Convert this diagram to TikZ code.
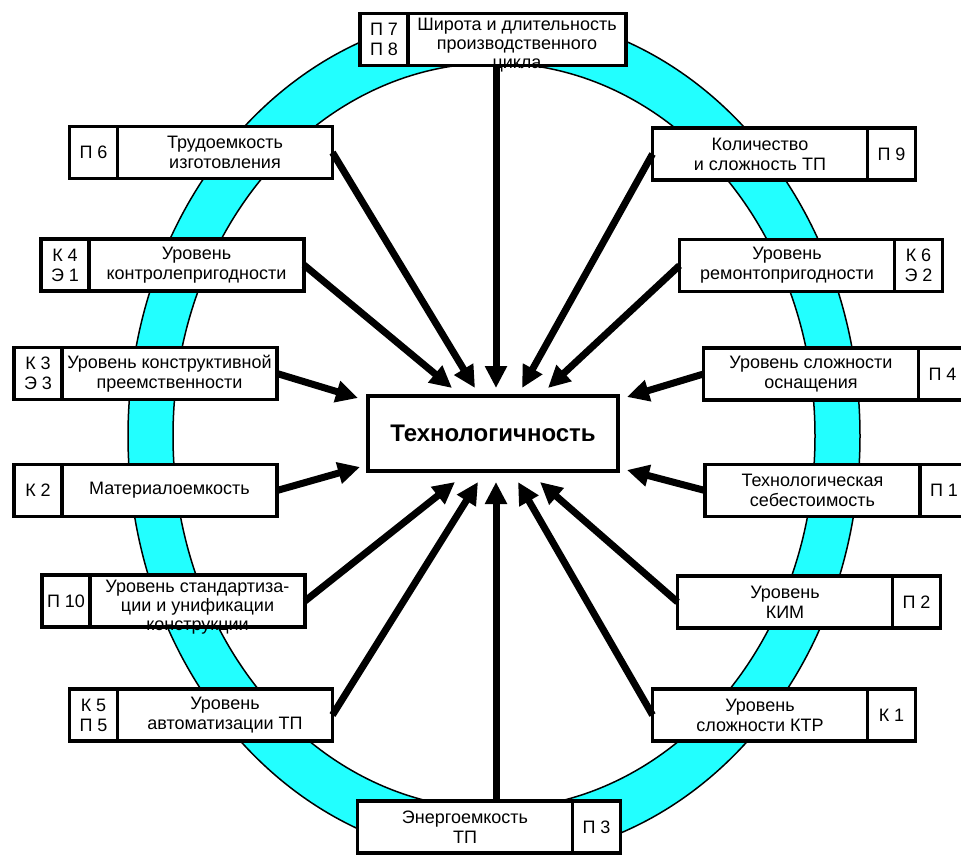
\documentclass[tikz,border=0pt]{standalone}
\usepackage{fontspec}
\setmainfont{Liberation Sans}
\usetikzlibrary{arrows.meta,positioning}
\definecolor{aqua}{HTML}{22FFFF}
\tikzset{
  band/.style={fill=aqua, draw=black, line width=1.5pt, even odd rule},
  cell/.style={
    draw=black, fill=white, line width=3.5pt, outer sep=0pt, inner sep=1pt,
    minimum height=52pt, align=center, font=\fontsize{18}{20}\selectfont},
  factorcell/.style={cell, minimum width=215pt},
  codecell/.style={cell, minimum width=48pt},
  overtext/.style={align=center, inner sep=0pt, yshift=-6pt, font=\fontsize{18}{19}\selectfont},
  core/.style={
    draw=black, fill=white, line width=3.5pt, outer sep=0pt,
    minimum width=250pt, minimum height=75pt, font=\fontsize{24}{26}\selectfont\bfseries},
  feed/.style={-{Triangle[length=22pt,width=21pt]}, line width=7pt},
}

\begin{document}
\begin{tikzpicture}[x=1pt, y=-1pt]
  \useasboundingbox[fill=white] (0,0) rectangle (961,854);
  % cyan ring behind the boxes
  \path[band] (494,436) ellipse [x radius=366pt, y radius=423pt]
              (494,436) ellipse [x radius=321pt, y radius=373pt];

  \node[core] (core) at (493,433.5) {Технологичность};

  % top and bottom
  \node[factorcell, minimum width=218pt] (cycle) at (517,39.5) {};
  \node[overtext] (cycletext) at (cycle) {Широта и длительность\\производственного\\цикла};
  \node[codecell, left=0pt of cycle] (cyclecode) {П 7\\П 8};
  \node[factorcell] (energy) at (465,827) {Энергоемкость\\ТП};
  \node[codecell, right=0pt of energy] (energycode) {П 3};

  % left column
  \node[factorcell] (labour) at (225,152.5) {Трудоемкость\\изготовления};
  \node[codecell, left=0pt of labour] (labourcode) {П 6};
  \node[factorcell] (control) at (196.5,265) {Уровень\\контролепригодности};
  \node[codecell, left=0pt of control] (controlcode) {К 4\\Э 1};
  \node[factorcell] (succession) at (169.5,373.5) {Уровень конструктивной\\преемственности};
  \node[codecell, left=0pt of succession] (successioncode) {К 3\\Э 3};
  \node[factorcell] (material) at (169.5,490.5) {Материалоемкость};
  \node[codecell, left=0pt of material] (materialcode) {К 2};
  \node[factorcell] (standard) at (197.5,601) {};
  \node[overtext] (standardtext) at (standard) {Уровень стандартиза-\\ции и унификации\\конструкции};
  \node[codecell, left=0pt of standard] (standardcode) {П 10};
  \node[factorcell] (automation) at (225,715) {Уровень\\автоматизации ТП};
  \node[codecell, left=0pt of automation] (automationcode) {К 5\\П 5};

  % right column
  \node[factorcell] (processes) at (760,154) {Количество\\и сложность ТП};
  \node[codecell, right=0pt of processes] (processescode) {П 9};
  \node[factorcell] (repair) at (787,265.5) {Уровень\\ремонтопригодности};
  \node[codecell, right=0pt of repair] (repaircode) {К 6\\Э 2};
  \node[factorcell] (tooling) at (811,374) {Уровень сложности\\оснащения};
  \node[codecell, right=0pt of tooling] (toolingcode) {П 4};
  \node[factorcell] (cost) at (812.5,490.5) {Технологическая\\себестоимость};
  \node[codecell, right=0pt of cost] (costcode) {П 1};
  \node[factorcell] (kim) at (785,602) {Уровень\\КИМ};
  \node[codecell, right=0pt of kim] (kimcode) {П 2};
  \node[factorcell] (ktr) at (760,715) {Уровень\\сложности КТР};
  \node[codecell, right=0pt of ktr] (ktrcode) {К 1};

  % arrows into the centre
  \draw[feed] (control.east) -- ([xshift=-41pt,yshift=8pt]core.north);
  \draw[feed] (labour.east) -- ([xshift=-18pt,yshift=8pt]core.north);
  \draw[feed] ([xshift=3pt]cycle.south -| core.north) -- ([xshift=3pt,yshift=8pt]core.north);
  \draw[feed] (processes.west) -- ([xshift=29pt,yshift=8pt]core.north);
  \draw[feed] (repair.west) -- ([xshift=55pt,yshift=8pt]core.north);
  \draw[feed] (succession.east) -- ([xshift=-10pt,yshift=35.5pt]core.west);
  \draw[feed] (material.east) -- ([xshift=-8pt,yshift=-33.5pt]core.west);
  \draw[feed] (tooling.west) -- ([xshift=9pt,yshift=36.5pt]core.east);
  \draw[feed] (cost.west) -- ([xshift=9pt,yshift=-36.5pt]core.east);
  \draw[feed] (standard.east) -- ([xshift=-38pt,yshift=-11pt]core.south);
  \draw[feed] (automation.east) -- ([xshift=-15pt,yshift=-11pt]core.south);
  \draw[feed] ([xshift=3pt]energy.north -| core.south) -- ([xshift=3pt,yshift=-11pt]core.south);
  \draw[feed] (ktr.west) -- ([xshift=25pt,yshift=-11pt]core.south);
  \draw[feed] (kim.west) -- ([xshift=47pt,yshift=-11pt]core.south);
\end{tikzpicture}
\end{document}
